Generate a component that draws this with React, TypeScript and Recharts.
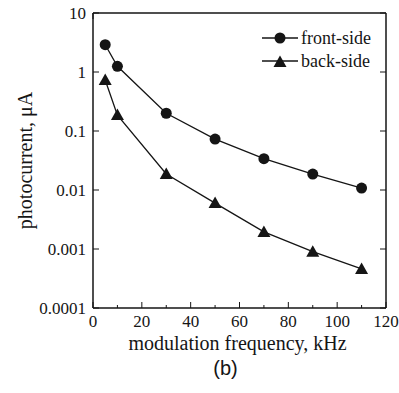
import React from 'react';
import { LineChart, Line, XAxis, YAxis, Legend } from 'recharts';

// modulation frequency, kHz
const frequencies = [5, 10, 30, 50, 70, 90, 110];
// photocurrent, uA
const frontSide = [2.9, 1.25, 0.2, 0.073, 0.034, 0.0186, 0.0108];
const backSide = [0.73, 0.186, 0.0187, 0.006, 0.00195, 0.0009, 0.00046];

const xTicks = [0, 10, 20, 30, 40, 50, 60, 70, 80, 90, 100, 110, 120];
const yTicks = [0.0001, 0.001, 0.01, 0.1, 1, 10];
const yTickLabels = ['0.0001', '0.001', '0.01', '0.1', '1', '10'];

const seriesNames = ['front-side', 'back-side'];

const data = frequencies.map((f, i) => ({
  freq: f,
  front: frontSide[i],
  back: backSide[i],
}));

const INK = '#151515';
const SERIF = '"Liberation Serif", "Times New Roman", serif';

const CircleDot = (props: any) => {
  const { cx, cy } = props;
  if (cx == null || cy == null) return null;
  return <circle cx={cx} cy={cy} r={5.5} fill={INK} />;
};

const TriangleDot = (props: any) => {
  const { cx, cy } = props;
  if (cx == null || cy == null) return null;
  return (
    <polygon
      points={`${cx},${cy - 6.5} ${cx - 6.5},${cy + 5} ${cx + 6.5},${cy + 5}`}
      fill={INK}
    />
  );
};

// ticks point inward, labels only on every 20 kHz
const BottomTick = (props: any) => {
  const { x, y, payload } = props;
  const major = payload.value % 20 === 0;
  return (
    <g>
      <line x1={x} x2={x} y1={y} y2={y - (major ? 6 : 3)} stroke={INK} />
      {major && (
        <text x={x} y={y + 19} textAnchor="middle" fontFamily={SERIF} fontSize={17} fill={INK}>
          {payload.value}
        </text>
      )}
    </g>
  );
};

const TopTick = (props: any) => {
  const { x, y, payload } = props;
  const major = payload.value % 20 === 0;
  return <line x1={x} x2={x} y1={y} y2={y + (major ? 6 : 3)} stroke={INK} />;
};

const LeftTick = (props: any) => {
  const { x, y, index } = props;
  return (
    <g>
      <line x1={x} x2={x + 6} y1={y} y2={y} stroke={INK} />
      <text x={x - 7} y={y + 6} textAnchor="end" fontFamily={SERIF} fontSize={17} fill={INK}>
        {yTickLabels[index]}
      </text>
    </g>
  );
};

const RightTick = (props: any) => {
  const { x, y } = props;
  return <line x1={x} x2={x - 6} y1={y} y2={y} stroke={INK} />;
};

const YTitle = (props: any) => {
  const { viewBox } = props;
  const cx = viewBox.x + 32;
  const cy = viewBox.y + viewBox.height / 2;
  return (
    <text
      x={cx}
      y={cy}
      transform={`rotate(-90 ${cx} ${cy})`}
      textAnchor="middle"
      fontFamily={SERIF}
      fontSize={20}
      fill={INK}
    >
      photocurrent, μA
    </text>
  );
};

const XTitle = (props: any) => {
  const { viewBox } = props;
  const cx = viewBox.x + viewBox.width / 2;
  return (
    <g>
      <text x={cx - 2} y={viewBox.y + 42} textAnchor="middle" fontFamily={SERIF} fontSize={20} fill={INK}>
        modulation frequency, kHz
      </text>
      <text
        x={cx - 14}
        y={viewBox.y + 67}
        textAnchor="middle"
        fontFamily='"Liberation Sans", Arial, sans-serif'
        fontSize={20}
        fill={INK}
      >
        (b)
      </text>
    </g>
  );
};

const renderLegend = () => (
  <div style={{ fontFamily: SERIF, fontSize: 18, color: INK }}>
    {seriesNames.map((name, i) => (
      <div key={name} style={{ display: 'flex', alignItems: 'center', height: 23 }}>
        <svg width={36} height={16}>
          <line x1={0} x2={36} y1={8} y2={8} stroke={INK} strokeWidth={1.3} />
          {i === 0 ? <CircleDot cx={18} cy={8} /> : <TriangleDot cx={18} cy={9} />}
        </svg>
        <span style={{ marginLeft: 3, lineHeight: '18px' }}>{name}</span>
      </div>
    ))}
  </div>
);

const App: React.FC = () => {
  return (
    <div style={{ position: 'absolute', left: 0, top: 0, width: 399, height: 393, background: '#fff' }}>
      <LineChart width={399} height={393} data={data} margin={{ top: 0, right: 0, bottom: 0, left: 0 }}>
        <XAxis
          dataKey="freq"
          type="number"
          domain={[0, 120]}
          ticks={xTicks}
          interval={0}
          height={85}
          tickSize={0}
          tickMargin={0}
          tickLine={false}
          tick={<BottomTick />}
          axisLine={{ stroke: INK, strokeWidth: 1.5 }}
          label={XTitle}
        />
        <XAxis
          xAxisId="top"
          orientation="top"
          type="number"
          domain={[0, 120]}
          ticks={xTicks}
          interval={0}
          height={13}
          tickSize={0}
          tickMargin={0}
          tickLine={false}
          tick={<TopTick />}
          axisLine={{ stroke: INK, strokeWidth: 1.5 }}
        />
        <YAxis
          type="number"
          scale="log"
          domain={[0.0001, 10]}
          ticks={yTicks}
          interval={0}
          allowDataOverflow
          width={93}
          tickSize={0}
          tickMargin={0}
          tickLine={false}
          tick={<LeftTick />}
          axisLine={{ stroke: INK, strokeWidth: 1.5 }}
          label={YTitle}
        />
        <YAxis
          yAxisId="right"
          orientation="right"
          type="number"
          scale="log"
          domain={[0.0001, 10]}
          ticks={yTicks}
          interval={0}
          allowDataOverflow
          width={13}
          tickSize={0}
          tickMargin={0}
          tickLine={false}
          tick={<RightTick />}
          axisLine={{ stroke: INK, strokeWidth: 1.5 }}
        />
        <Legend
          layout="vertical"
          align="center"
          verticalAlign="middle"
          content={renderLegend}
          wrapperStyle={{ position: 'absolute', top: 26, left: 262, width: 'auto', height: 'auto' }}
        />
        <Line
          dataKey="front"
          name="front-side"
          stroke={INK}
          strokeWidth={1.3}
          dot={<CircleDot />}
          activeDot={false}
          isAnimationActive={false}
        />
        <Line
          dataKey="back"
          name="back-side"
          stroke={INK}
          strokeWidth={1.3}
          dot={<TriangleDot />}
          activeDot={false}
          isAnimationActive={false}
        />
      </LineChart>
    </div>
  );
};

export default App;
